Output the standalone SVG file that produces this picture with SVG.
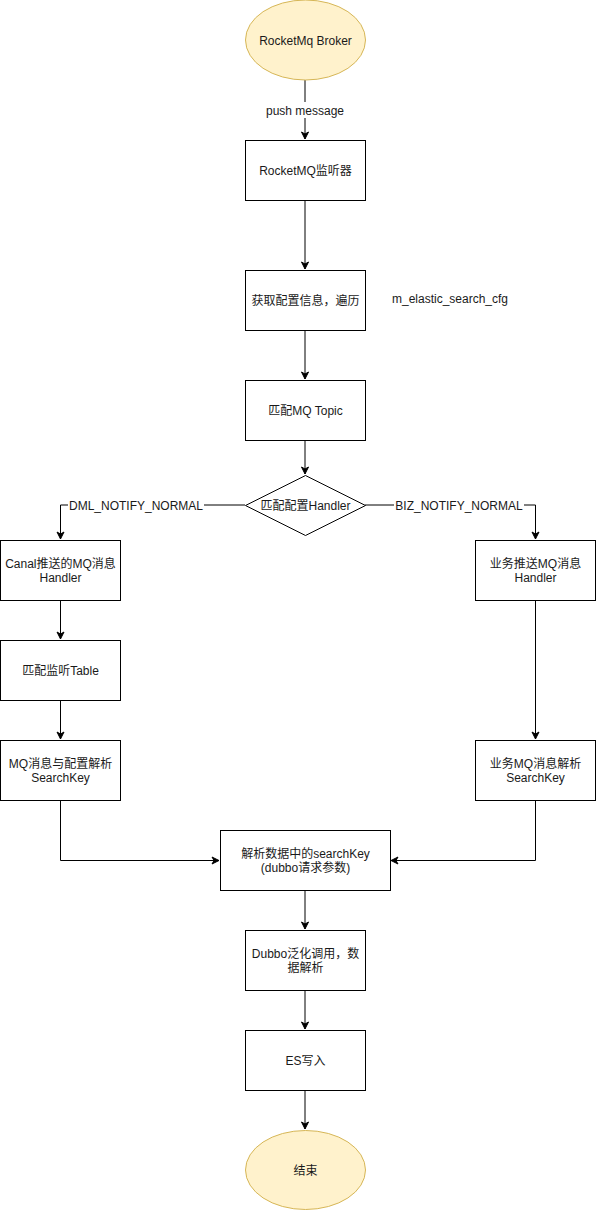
<svg xmlns="http://www.w3.org/2000/svg" width="596" height="1210" viewBox="0 0 596 1210">
<defs>
<marker id="arr" markerWidth="10" markerHeight="10" refX="8" refY="5" orient="auto" markerUnits="userSpaceOnUse">
<path d="M1,1.5 L8,5 L1,8.5 L3,5 Z" fill="#000" stroke="#000" stroke-width="1"/>
</marker>
</defs>
<style>
text{font-family:"Liberation Sans","Noto Sans CJK SC",sans-serif;font-size:12px;fill:#1a1a1a;text-anchor:middle;dominant-baseline:central}
.box{fill:#fff;stroke:#000;stroke-width:1}
.term{fill:#fff2cc;stroke:#d6b656;stroke-width:1}
.edge{fill:none;stroke:#000;stroke-width:1;marker-end:url(#arr)}
.lbl{fill:#fff}
</style>
<rect width="596" height="1210" fill="#fff"/>
<g id="connectors">
<path class="edge" d="M305,80 V139"/>
<path class="edge" d="M305,200 V269"/>
<path class="edge" d="M305,330 V379"/>
<path class="edge" d="M305,440 V474"/>
<path class="edge" d="M245,505 H60.5 V539"/>
<path class="edge" d="M365,505 H535.5 V539"/>
<path class="edge" d="M60.5,600 V639"/>
<path class="edge" d="M60.5,700 V739"/>
<path class="edge" d="M535.5,600 V739"/>
<path class="edge" d="M60.5,800 V860.5 H219"/>
<path class="edge" d="M535.5,800 V860.5 H391"/>
<path class="edge" d="M305,890 V929"/>
<path class="edge" d="M305,990 V1029"/>
<path class="edge" d="M305,1090 V1129"/>
<rect class="lbl" x="264" y="102" width="82" height="16"/>
<text x="305" y="110.5">push message</text>
<rect class="lbl" x="68" y="497" width="136" height="16"/>
<text x="136" y="505.5">DML_NOTIFY_NORMAL</text>
<rect class="lbl" x="394" y="497" width="130" height="16"/>
<text x="459" y="505.5">BIZ_NOTIFY_NORMAL</text>
</g>
<g id="n-broker"><ellipse class="term" cx="305.5" cy="40" rx="60" ry="40"/><text x="305.5" y="40.5">RocketMq Broker</text></g>
<g id="n-listener"><rect class="box" x="245.5" y="140.5" width="120" height="60"/><text x="305.5" y="170.5">RocketMQ监听器</text></g>
<g id="n-config"><rect class="box" x="245.5" y="270.5" width="120" height="60"/><text x="305.5" y="300.5">获取配置信息，遍历</text></g>
<g id="n-cfgname"><text x="450" y="298.5">m_elastic_search_cfg</text></g>
<g id="n-topic"><rect class="box" x="245.5" y="380.5" width="120" height="60"/><text x="305.5" y="410.5">匹配MQ Topic</text></g>
<g id="n-handler"><path class="box" d="M305.5,475.5 L365.5,505.5 L305.5,535.5 L245.5,505.5 Z"/><text x="305.5" y="505.5">匹配配置Handler</text></g>
<g id="n-canal"><rect class="box" x="0.5" y="540.5" width="120" height="60"/><text x="60.5" y="563.5">Canal推送的MQ消息</text><text x="60.5" y="577.5">Handler</text></g>
<g id="n-biz"><rect class="box" x="475.5" y="540.5" width="120" height="60"/><text x="535.5" y="563.5">业务推送MQ消息</text><text x="535.5" y="577.5">Handler</text></g>
<g id="n-table"><rect class="box" x="0.5" y="640.5" width="120" height="60"/><text x="60.5" y="670.5">匹配监听Table</text></g>
<g id="n-mqparse"><rect class="box" x="0.5" y="740.5" width="120" height="60"/><text x="60.5" y="763.5">MQ消息与配置解析</text><text x="60.5" y="777.5">SearchKey</text></g>
<g id="n-bizparse"><rect class="box" x="475.5" y="740.5" width="120" height="60"/><text x="535.5" y="763.5">业务MQ消息解析</text><text x="535.5" y="777.5">SearchKey</text></g>
<g id="n-searchkey"><rect class="box" x="220.5" y="830.5" width="170" height="60"/><text x="305.5" y="853.5">解析数据中的searchKey</text><text x="305.5" y="867.5">(dubbo请求参数)</text></g>
<g id="n-dubbo"><rect class="box" x="245.5" y="930.5" width="120" height="60"/><text x="305.5" y="953.5">Dubbo泛化调用，数</text><text x="305.5" y="967.5">据解析</text></g>
<g id="n-es"><rect class="box" x="245.5" y="1030.5" width="120" height="60"/><text x="305.5" y="1060.5">ES写入</text></g>
<g id="n-end"><ellipse class="term" cx="305.5" cy="1170" rx="60" ry="39.5"/><text x="305.5" y="1170.5">结束</text></g>
</svg>
